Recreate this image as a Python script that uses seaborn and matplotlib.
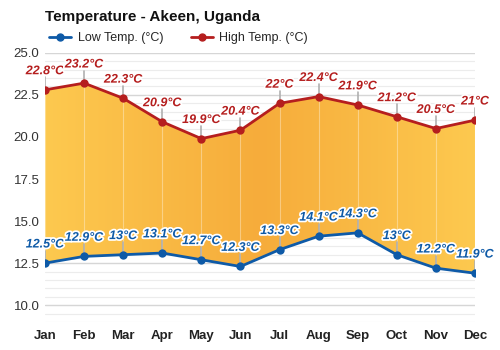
import numpy as np
import matplotlib
matplotlib.use("Agg")
import matplotlib.pyplot as plt
import matplotlib.patheffects as pe
from matplotlib.colors import LinearSegmentedColormap
import seaborn as sns
import pandas as pd

months = ["Jan", "Feb", "Mar", "Apr", "May", "Jun", "Jul", "Aug", "Sep", "Oct", "Nov", "Dec"]
low_temp = [12.5, 12.9, 13.0, 13.1, 12.7, 12.3, 13.3, 14.1, 14.3, 13.0, 12.2, 11.9]
high_temp = [22.8, 23.2, 22.3, 20.9, 19.9, 20.4, 22.0, 22.4, 21.9, 21.2, 20.5, 21.0]
y_ticks = [10.0, 12.5, 15.0, 17.5, 20.0, 22.5, 25.0]

sns.set_theme(style="white")
plt.rcParams["font.family"] = ["Liberation Sans", "DejaVu Sans"]

RED = "#B51E1E"
BLUE = "#0E5AA7"

df = pd.DataFrame({"month": months, "x": np.arange(len(months)),
                   "low": low_temp, "high": high_temp})

fig = plt.figure(figsize=(5, 3.5), dpi=100)
ax = fig.add_axes([0.09, 0.08, 0.86, 0.769])
ax.set_xlim(0, 11)
ax.set_ylim(9.0, 25.0)

# minor and major horizontal grid
for v in np.arange(9.0, 25.01, 0.5):
    major = abs((v / 2.5) - round(v / 2.5)) < 1e-6
    ax.axhline(v, color="#d6d6d6" if major else "#ececec", lw=1.0 if major else 0.8, zorder=0)

# gradient fill between the two series
x = df["x"].to_numpy()
poly = ax.fill_between(x, df["low"], df["high"], color="none", lw=0, zorder=1)
cmap = LinearSegmentedColormap.from_list("band", ["#FDC94F", "#F6AC3B", "#FDC94F"])
grad = np.linspace(0, 1, 256).reshape(1, -1)
img = ax.imshow(grad, extent=[0, 11, 9, 25], aspect="auto", cmap=cmap, zorder=1,
                interpolation="bilinear")
path = poly.get_paths()[0]
img.set_clip_path(path, transform=ax.transData)

# faint vertical lines at each month inside the band
for xi, lo, hi in zip(x, low_temp, high_temp):
    ax.plot([xi, xi], [lo, hi], color="white", alpha=0.35, lw=0.8, zorder=2)

sns.lineplot(data=df, x="x", y="high", ax=ax, color=RED, lw=2, marker="o",
             markersize=6, markeredgewidth=0, zorder=4, label="High Temp. (°C)", legend=False)
sns.lineplot(data=df, x="x", y="low", ax=ax, color=BLUE, lw=2, marker="o",
             markersize=6, markeredgewidth=0, zorder=4, label="Low Temp. (°C)", legend=False)

outline = [pe.withStroke(linewidth=2.5, foreground="white")]
for xi, v in zip(x, high_temp):
    ax.plot([xi, xi], [v, v + 0.75], color="#b0b0b0", lw=1.2, zorder=3)
    ax.text(xi, v + 0.75, f"{v:g}°C", ha="center", va="bottom", color=RED,
            fontsize=9, fontweight="bold", fontstyle="italic", path_effects=outline, zorder=5)
for xi, v in zip(x, low_temp):
    ax.plot([xi, xi], [v, v + 0.75], color="#b0b0b0", lw=1.2, zorder=3)
    ax.text(xi, v + 0.75, f"{v:g}°C", ha="center", va="bottom", color=BLUE,
            fontsize=9, fontweight="bold", fontstyle="italic", path_effects=outline, zorder=5)

ax.set_xticks(x)
ax.set_xticklabels(months, fontweight="bold", fontsize=9.5, color="#222222")
ax.set_yticks(y_ticks)
ax.set_yticklabels([f"{t:.1f}" for t in y_ticks], fontsize=9.5, color="#333333")
ax.tick_params(axis="both", length=0, pad=6)
ax.tick_params(axis="y", pad=4)
ax.set_xlabel("")
ax.set_ylabel("")
for s in ax.spines.values():
    s.set_visible(False)

fig.text(0.09, 0.95, "Temperature - Akeen, Uganda", fontsize=11, fontweight="bold",
         color="#111111", va="center")
handles = [
    plt.Line2D([], [], color=BLUE, lw=2, marker="o", markersize=5),
    plt.Line2D([], [], color=RED, lw=2, marker="o", markersize=5),
]
fig.legend(handles, ["Low Temp. (°C)", "High Temp. (°C)"], loc="center left",
           bbox_to_anchor=(0.075, 0.89), ncol=2, frameon=False, fontsize=9,
           handlelength=1.8, handletextpad=0.5, columnspacing=2.2)

fig.savefig("out.png", dpi=100)
